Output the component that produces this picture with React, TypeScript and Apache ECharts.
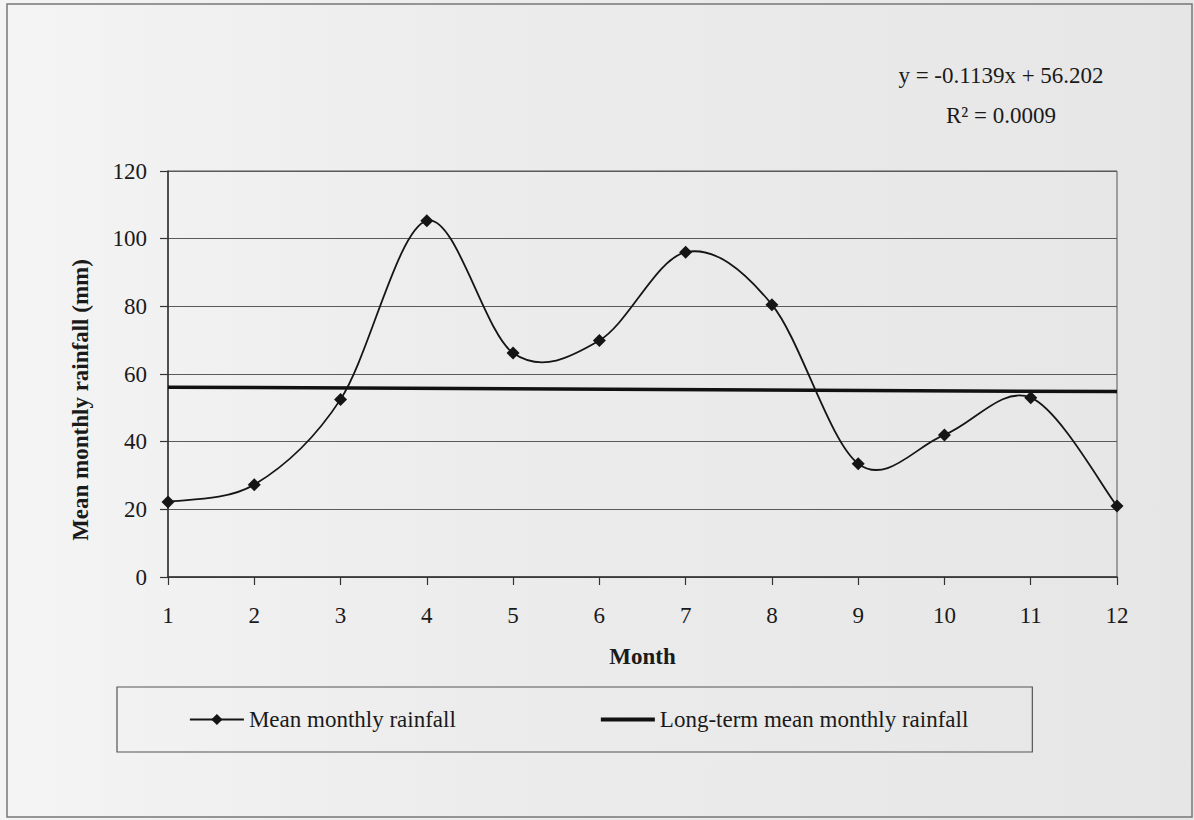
import React, { useEffect, useRef } from "react";
import * as echarts from "echarts";

// Data
const months = [1, 2, 3, 4, 5, 6, 7, 8, 9, 10, 11, 12];
const meanMonthly = [22.2, 27.3, 52.5, 105.3, 66.2, 69.9, 96.0, 80.5, 33.5, 42.0, 53.0, 21.0];
const longTermX = [1, 12];
const longTermY = [56.1, 54.8];
const yTicks = { min: 0, max: 120, interval: 20 };
const seriesNames = ["Mean monthly rainfall", "Long-term mean monthly rainfall"];
const equationText = "y = -0.1139x + 56.202";
const r2Text = "R\u00B2 = 0.0009";
const xTitle = "Month";
const yTitle = "Mean monthly rainfall (mm)";

const FONT = "'Liberation Serif', 'Times New Roman', serif";
const INK = "#151515";

export default function App() {
  const ref = useRef<HTMLDivElement>(null);

  useEffect(() => {
    if (!ref.current) return;
    const chart = echarts.init(ref.current, undefined, { renderer: "svg" });
    const meanData = months.map((m, i) => [m, meanMonthly[i]]);
    const ltData = longTermX.map((x, i) => [x, longTermY[i]]);

    // Excel-like smoothed curve (Catmull-Rom as cubic Bezier) through the points, in pixel space
    const renderCurve = (params: any, api: any) => {
      if (params.dataIndex !== 0) return null;
      const pts = meanData.map((d) => api.coord(d));
      let d = `M${pts[0][0]},${pts[0][1]}`;
      for (let i = 0; i < pts.length - 1; i++) {
        const p0 = pts[Math.max(0, i - 1)];
        const p1 = pts[i];
        const p2 = pts[i + 1];
        const p3 = pts[Math.min(pts.length - 1, i + 2)];
        const c1x = p1[0] + (p2[0] - p0[0]) / 6;
        const c1y = p1[1] + (p2[1] - p0[1]) / 6;
        const c2x = p2[0] - (p3[0] - p1[0]) / 6;
        const c2y = p2[1] - (p3[1] - p1[1]) / 6;
        d += ` C${c1x},${c1y} ${c2x},${c2y} ${p2[0]},${p2[1]}`;
      }
      return {
        type: "path",
        shape: { pathData: d },
        style: { fill: "none", stroke: INK, lineWidth: 1.8 },
        silent: true,
      };
    };

    chart.setOption({
      animation: false,
      backgroundColor: "transparent",
      textStyle: { fontFamily: FONT, color: "#1a1a1a" },
      grid: {
        left: 168,
        right: 77,
        top: 171,
        bottom: 243,
        show: true,
        borderColor: "#555",
        borderWidth: 1,
        backgroundColor: "transparent",
      },
      xAxis: {
        type: "value",
        min: 1,
        max: 12,
        interval: 1,
        name: xTitle,
        nameLocation: "middle",
        nameGap: 68,
        nameTextStyle: { fontFamily: FONT, fontSize: 23, fontWeight: "bold", color: "#1a1a1a" },
        axisLine: { show: true, onZero: false, lineStyle: { color: "#333", width: 1.5 } },
        axisTick: { show: true, length: 8, lineStyle: { color: "#333", width: 1.2 } },
        axisLabel: { fontFamily: FONT, fontSize: 23, color: "#1a1a1a", margin: 27 },
        splitLine: { show: false },
      },
      yAxis: {
        type: "value",
        min: yTicks.min,
        max: yTicks.max,
        interval: yTicks.interval,
        axisLine: { show: true, lineStyle: { color: "#333", width: 1.5 } },
        axisTick: { show: true, length: 8, lineStyle: { color: "#333", width: 1.2 } },
        axisLabel: { fontFamily: FONT, fontSize: 23, color: "#1a1a1a", margin: 21 },
        splitLine: { show: true, lineStyle: { color: "#5a5a5a", width: 1 } },
      },
      legend: {
        show: true,
        left: 117,
        top: 687,
        orient: "horizontal",
        padding: [21, 64, 21, 72],
        itemGap: 143,
        itemWidth: 54,
        itemHeight: 14,
        borderColor: "#555",
        borderWidth: 1.2,
        backgroundColor: "transparent",
        textStyle: { fontFamily: FONT, fontSize: 23, color: "#1a1a1a" },
        data: [
          { name: seriesNames[0], lineStyle: { opacity: 1, width: 1.8, color: INK } },
          { name: seriesNames[1], itemStyle: { opacity: 0 }, lineStyle: { width: 4, color: "#111" } },
        ],
      },
      series: [
        {
          name: seriesNames[0],
          type: "line",
          data: meanData,
          symbol: "diamond",
          symbolSize: 13,
          showAllSymbol: true,
          itemStyle: { color: INK },
          lineStyle: { color: INK, width: 1.8, opacity: 0 },
          z: 4,
        },
        {
          name: "meanCurve",
          type: "custom",
          data: meanData,
          renderItem: renderCurve,
          z: 3,
        },
        {
          name: seriesNames[1],
          type: "line",
          data: ltData,
          symbol: "none",
          itemStyle: { color: "#111" },
          lineStyle: { color: "#111", width: 3.5 },
          z: 2,
        },
      ],
      graphic: [
        {
          type: "rect",
          shape: { x: 7, y: 4, width: 1185, height: 813 },
          style: { fill: "none", stroke: "#777", lineWidth: 1.5 },
          silent: true,
        },
        {
          type: "text",
          x: 1001,
          y: 75,
          style: {
            text: equationText,
            align: "center",
            verticalAlign: "middle",
            font: `23px ${FONT}`,
            fill: "#1a1a1a",
          },
        },
        {
          type: "text",
          x: 1001,
          y: 115,
          style: {
            text: r2Text,
            align: "center",
            verticalAlign: "middle",
            font: `23px ${FONT}`,
            fill: "#1a1a1a",
          },
        },
        {
          type: "text",
          x: 80,
          y: 400,
          rotation: Math.PI / 2,
          style: {
            text: yTitle,
            align: "center",
            verticalAlign: "middle",
            font: `bold 23px ${FONT}`,
            fill: "#1a1a1a",
          },
        },
      ],
    });

    return () => chart.dispose();
  }, []);

  return (
    <div
      style={{
        position: "absolute",
        left: 0,
        top: 0,
        width: 1194,
        height: 820,
        background: "linear-gradient(90deg, #f4f4f4 0%, #ececec 40%, #e6e6e6 100%)",
      }}
    >
      <div ref={ref} style={{ width: 1194, height: 820 }} />
    </div>
  );
}
